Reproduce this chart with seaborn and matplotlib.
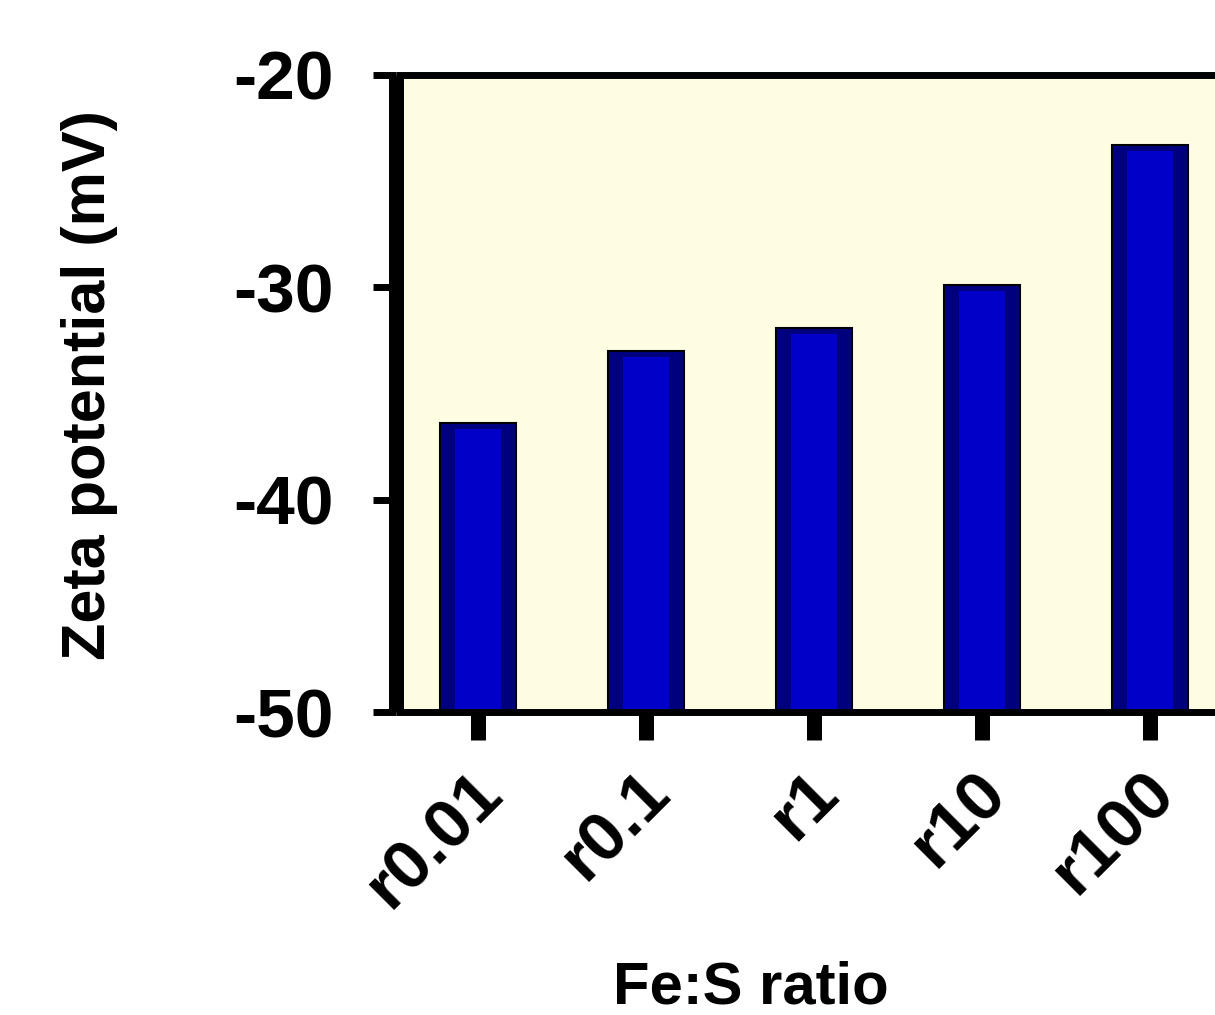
import numpy as np
import pandas as pd
import matplotlib
matplotlib.use('Agg')
import matplotlib.pyplot as plt
import matplotlib.transforms as mtransforms
import seaborn as sns

# data
ratios = ['r0.01', 'r0.1', 'r1', 'r10', 'r100']
zeta = [-36.4, -33.0, -31.9, -29.9, -23.3]
yticks = [-50, -40, -30, -20]
baseline = -50

sns.set_theme(style='ticks')
plt.rcParams['font.family'] = ['Liberation Sans', 'DejaVu Sans']
plt.rcParams['font.weight'] = 'bold'
plt.rcParams['text.color'] = 'black'
plt.rcParams['axes.labelcolor'] = 'black'
plt.rcParams['xtick.color'] = 'black'
plt.rcParams['ytick.color'] = 'black'

df = pd.DataFrame({'Ratio': ratios, 'Zeta': zeta})
df['Height'] = df['Zeta'] - baseline

fig = plt.figure(figsize=(12.15, 10.15), dpi=100)
# axes runs a little past the right edge, as in the reference
ax = fig.add_axes([396 / 1215, 303 / 1015, 836 / 1215, 637 / 1015])
ax.set_facecolor('#FFFDE1')

# outer dark bar, then the lighter core
sns.barplot(data=df, x='Ratio', y='Height', bottom=baseline, width=0.45,
            color='#00007F', saturation=1, edgecolor='black', linewidth=1.5,
            errorbar=None, ax=ax)
inset = 6 / (637 / 30)
sns.barplot(x=df['Ratio'], y=df['Height'] - inset, bottom=baseline, width=0.27,
            color='#0000C8', saturation=1, linewidth=0,
            errorbar=None, ax=ax)

ax.set_ylim(-50, -20)
ax.set_xlim(-0.488, 4.488)
ax.set_yticks(yticks)
ax.set_yticklabels([str(t) for t in yticks])

ax.spines['right'].set_visible(False)
ax.spines['left'].set_linewidth(10.8)
ax.spines['top'].set_linewidth(5)
ax.spines['bottom'].set_linewidth(5)
for s in ax.spines.values():
    s.set_color('black')
    s.set_capstyle('butt')

ax.tick_params(axis='x', direction='out', length=20, width=10.8, color='black',
               labelsize=50, pad=34, labelcolor='black')
ax.tick_params(axis='y', direction='out', length=16.5, width=5, color='black',
               labelsize=50, pad=28, labelcolor='black')

shift = mtransforms.ScaledTranslation(14 / 100, 4 / 100, fig.dpi_scale_trans)
for lab in ax.get_xticklabels():
    lab.set_rotation(45)
    lab.set_ha('right')
    lab.set_va('center')
    lab.set_rotation_mode('anchor')
    lab.set_fontweight('bold')
    lab.set_transform(lab.get_transform() + shift)
for lab in ax.get_yticklabels():
    lab.set_fontweight('bold')

ax.set_xlabel('Fe:S ratio', fontsize=43, fontweight='bold', va='baseline')
ax.set_ylabel('Zeta potential (mV)', fontsize=44, fontweight='bold')
ax.xaxis.set_label_coords(751 / 1215, 1 - 1004 / 1015, transform=fig.transFigure)
ax.yaxis.set_label_coords(118 / 1215, 1 - 385 / 1015, transform=fig.transFigure)

fig.savefig('out.png', dpi=100)
